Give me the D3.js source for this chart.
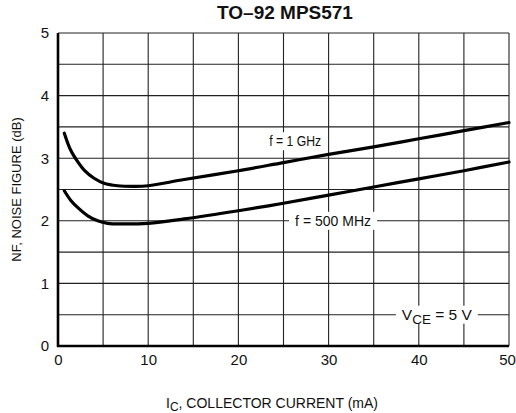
<!DOCTYPE html>
<html>
<head>
<meta charset="utf-8">
<script src="https://cdn.jsdelivr.net/npm/d3@7"></script>
<style>
    body { margin: 0; background: #fff; }
    text { font-family: "Liberation Sans", Arial, sans-serif; fill: #111; }
</style>
</head>
<body>
<div id="chart"></div>
<script>
const width = 516
const height = 413
const margin = { top: 33, right: 7, bottom: 67, left: 58 }

// f = 1 GHz curve
const icGHz = [0.7, 1.4, 2.2, 2.9, 4, 5.1, 6.6, 8.5, 10, 14, 20, 25, 30, 35, 40, 45, 50]
const nfGHz = [3.40, 3.13, 2.94, 2.81, 2.68, 2.60, 2.56, 2.55, 2.56, 2.66, 2.80, 2.93, 3.06, 3.18, 3.31, 3.44, 3.57]
// f = 500 MHz curve
const icMHz = [0.7, 1.4, 2.2, 3.3, 4.4, 5.5, 7, 10, 14, 20, 25, 30, 35, 40, 45, 50]
const nfMHz = [2.48, 2.33, 2.21, 2.08, 2.00, 1.96, 1.95, 1.96, 2.03, 2.16, 2.28, 2.41, 2.54, 2.67, 2.80, 2.94]

const xTicks = [0, 10, 20, 30, 40, 50]
const yTicks = [0, 1, 2, 3, 4, 5]
const xGrid = [0, 5, 10, 15, 20, 25, 30, 35, 40, 45, 50]
const yGrid = [0, 0.5, 1, 1.5, 2, 2.5, 3, 3.5, 4, 4.5, 5]

const svg = d3.select("#chart").append("svg")
    .attr("width", width)
    .attr("height", height)

const x = d3.scaleLinear().domain([0, 50]).range([margin.left, width - margin.right])
const y = d3.scaleLinear().domain([0, 5]).range([height - margin.bottom, margin.top])

//  GRID  ///////////////////////////////////////////
const grid = svg.append("g").attr("stroke", "#222").attr("stroke-width", 1.1)
grid.selectAll(".vg").data(xGrid).join("line")
    .attr("x1", d => x(d)).attr("x2", d => x(d))
    .attr("y1", y(0)).attr("y2", y(5))
grid.selectAll(".hg").data(yGrid).join("line")
    .attr("x1", x(0)).attr("x2", x(50))
    .attr("y1", d => y(d)).attr("y2", d => y(d))

// heavy left and bottom axis lines
svg.append("line")
    .attr("x1", x(0)).attr("x2", x(0)).attr("y1", y(5)).attr("y2", y(0) + 1)
    .attr("stroke", "#000").attr("stroke-width", 2.6)
svg.append("line")
    .attr("x1", x(0) - 1).attr("x2", x(50)).attr("y1", y(0)).attr("y2", y(0))
    .attr("stroke", "#000").attr("stroke-width", 2.6)

//  AXES (labels only)  /////////////////////////////
const xAxis = svg.append("g")
    .attr("transform", `translate(0, ${y(0)})`)
    .call(d3.axisBottom(x).tickValues(xTicks).tickFormat(d3.format("d")).tickSize(0).tickPadding(8))
const yAxis = svg.append("g")
    .attr("transform", `translate(${x(0)}, 0)`)
    .call(d3.axisLeft(y).tickValues(yTicks).tickFormat(d3.format("d")).tickSize(0).tickPadding(9))
;[xAxis, yAxis].forEach(a => {
    a.select(".domain").remove()
    a.selectAll("text").attr("font-family", null).style("font-size", "15px").attr("fill", "#111")
})
// keep the last x label inside the window
xAxis.selectAll("text").filter(d => d === 50).attr("dx", -2)

//  LABEL BOXES  ////////////////////////////////////
function label(cx, cy, w, parts, size) {
    svg.append("rect")
        .attr("x", cx - w / 2 - 6).attr("y", cy - 9)
        .attr("width", w + 12).attr("height", 18)
        .attr("fill", "#fff")
    const t = svg.append("text")
        .attr("x", cx).attr("y", cy + 5)
        .attr("text-anchor", "middle")
        .style("font-size", size + "px")
        .attr("textLength", w).attr("lengthAdjust", "spacingAndGlyphs")
    parts.forEach(p => {
        const s = t.append("tspan").text(p.t)
        if (p.sub) s.attr("baseline-shift", "-28%").style("font-size", (size - 2) + "px")
    })
}

label(x(26.3), y(3.27), 52, [{ t: "f = 1 GHz" }], 15)
label(x(30.5), y(2), 76, [{ t: "f = 500 MHz" }], 15)
label(x(42), y(0.5), 70, [{ t: "V" }, { t: "CE", sub: true }, { t: " = 5 V" }], 15)

//  CURVES  /////////////////////////////////////////
const line = d3.line().x(d => x(d[0])).y(d => y(d[1])).curve(d3.curveCatmullRom.alpha(0.5))
const curves = [d3.zip(icGHz, nfGHz), d3.zip(icMHz, nfMHz)]
svg.selectAll(".curve").data(curves).join("path")
    .attr("class", "curve")
    .attr("d", line)
    .attr("fill", "none")
    .attr("stroke", "#000")
    .attr("stroke-width", 3.2)
    .attr("stroke-linecap", "round")

//  TITLES  /////////////////////////////////////////
svg.append("text")
    .attr("x", 285).attr("y", 19)
    .attr("text-anchor", "middle")
    .style("font-weight", "bold")
    .style("font-size", "19px")
    .text("TO–92 MPS571")

const xt = svg.append("text")
    .attr("x", 272).attr("y", 408)
    .attr("text-anchor", "middle")
    .style("font-size", "14px")
xt.append("tspan").text("I")
xt.append("tspan").text("C").attr("baseline-shift", "-28%").style("font-size", "12px")
xt.append("tspan").text(", COLLECTOR CURRENT (mA)")

svg.append("text")
    .attr("transform", `translate(21, ${(y(0) + y(5)) / 2}) rotate(-90)`)
    .attr("text-anchor", "middle")
    .style("font-size", "13px")
    .text("NF, NOISE FIGURE (dB)")
</script>
</body>
</html>
